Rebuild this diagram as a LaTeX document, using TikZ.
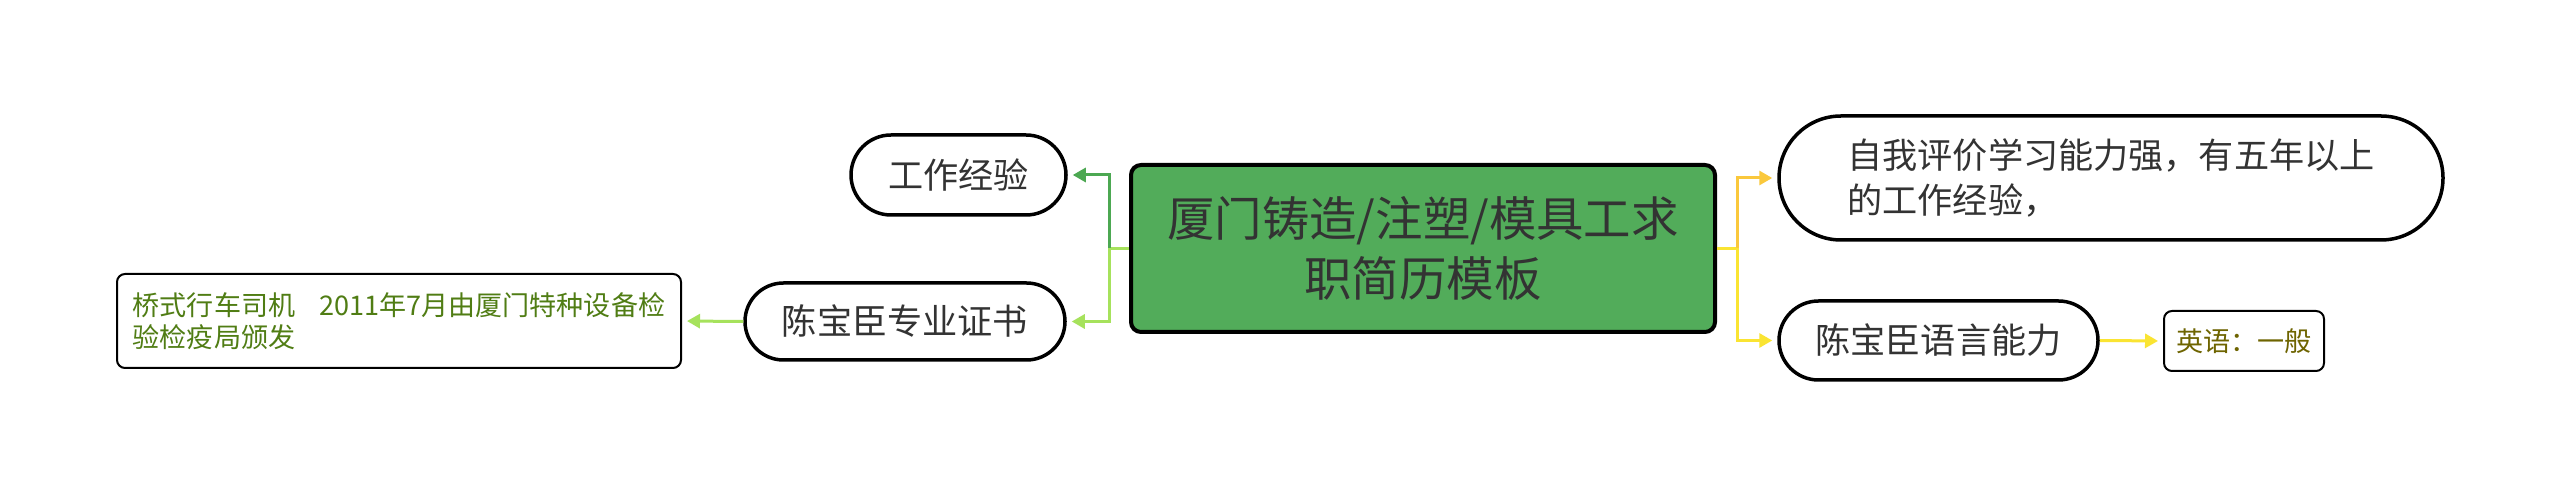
\documentclass[tikz,border=0pt]{standalone}
\usepackage{fontspec}
\setmainfont{Noto Sans CJK SC}
\usetikzlibrary{calc,positioning,arrows.meta}

\definecolor{rootgreen}{RGB}{82,172,90}
\definecolor{darktext}{RGB}{51,51,51}
\definecolor{darkbranch}{RGB}{76,168,82}
\definecolor{lightbranch}{RGB}{166,226,92}
\definecolor{orangebranch}{RGB}{250,200,60}
\definecolor{yellowbranch}{RGB}{250,228,50}
\definecolor{certtext}{RGB}{80,125,20}
\definecolor{langtext}{RGB}{110,100,0}

\begin{document}
\begin{tikzpicture}[
    line width=0.03cm,
    >={Triangle[length=0.13cm,width=0.14cm]},
    rootbox/.style={draw,line width=0.04cm,fill=rootgreen,rounded corners=0.1cm,minimum width=5.84cm,minimum height=1.67cm,align=center,text=darktext,font=\fontsize{13.5}{17.3}\selectfont},
    pill/.style={draw,line width=0.035cm,minimum height=0.8cm,inner xsep=0.2cm,text=darktext,font=\fontsize{10}{12.8}\selectfont},
    leafbox/.style={draw,line width=0.02cm,rounded corners=0.08cm,align=left,font=\fontsize{7.7}{9.1}\selectfont},
    darkline/.style={draw=darkbranch,shorten >=0.05cm},
    lightline/.style={draw=lightbranch,shorten >=0.05cm},
    orangeline/.style={draw=orangebranch,shorten >=0.05cm},
    yellowline/.style={draw=yellowbranch,shorten >=0.05cm},
  ]

  \path[use as bounding box,fill=white] (0,0) rectangle (25.6,-4.97);

  % root

  \node (root) at (14.23,-2.485) [rootbox] {厦门铸造/注塑/模具工求\\职简历模板};

  % left side

  \node (work) at (9.585,-1.75) [pill,rounded corners=0.4cm,minimum width=2.15cm] {工作经验};
  \node (cert) at (9.05,-3.215) [pill,rounded corners=0.385cm,minimum width=3.2cm,minimum height=0.77cm] {陈宝臣专业证书};
  \node (certleaf) at (3.99,-3.21) [leafbox,minimum width=5.64cm,minimum height=0.94cm,text=certtext] {桥式行车司机~~~~2011年7月由厦门特种设备检\\验检疫局颁发};

  % right side

  \node (self) at (21.11,-1.78) [pill,rounded corners=0.62cm,minimum width=6.64cm,minimum height=1.24cm,align=left] {自我评价学习能力强，有五年以上\\的工作经验，};
  \node (lang) at (19.385,-3.405) [pill,rounded corners=0.395cm,minimum width=3.19cm,minimum height=0.79cm] {陈宝臣语言能力};
  \node (langleaf) at (22.44,-3.41) [leafbox,minimum width=1.6cm,minimum height=0.6cm,text=langtext] {英语：一般};

  % left branches

  \coordinate (lj) at ($(root.west) + (-0.2,0)$);
  \draw[lightline,shorten >=0pt] (root.west) -- (lj);
  \draw[darkline,->] (lj) |- (work.east);
  \draw[lightline,->] (lj) |- (cert.east);
  \draw[lightline,->] (cert.west) -- (certleaf.east);

  % right branches

  \coordinate (rj) at ($(root.east) + (0.2,0)$);
  \draw[yellowline,shorten >=0pt] (root.east) -- (rj);
  \draw[orangeline,->] (rj) |- (self.west);
  \draw[yellowline,->] (rj) |- (lang.west);
  \draw[yellowline,->] (lang.east) -- (langleaf.west);

\end{tikzpicture}
\end{document}
